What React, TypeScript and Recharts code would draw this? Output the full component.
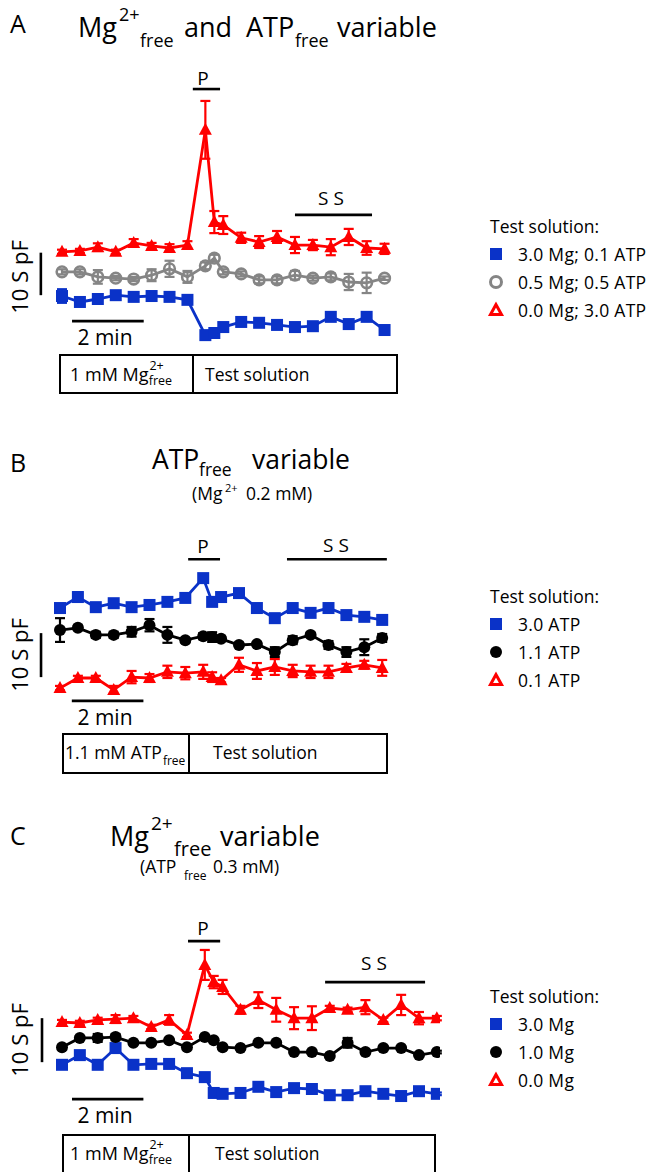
import React from "react";
import { LineChart, Line, XAxis, YAxis, ErrorBar, ReferenceLine } from "recharts";

const BLUE = "#0a32c8";
const RED = "#ff0000";
const GRAY = "#858585";
const BLACK = "#000000";
const FONT = "'Open Sans', 'DejaVu Sans', sans-serif";

// sampling times (min), 30 s steps with extra samples around the peak
const timeA = [0, 0.5, 1, 1.5, 2, 2.5, 3, 3.5, 4, 4.25, 4.5, 5, 5.5, 6, 6.5, 7, 7.5, 8, 8.5, 9];
const timeB = [0, 0.5, 1, 1.5, 2, 2.5, 3, 3.5, 4, 4.25, 4.5, 5, 5.5, 6, 6.5, 7, 7.5, 8, 8.5, 9];
const timeC = [0, 0.5, 1, 1.5, 2, 2.5, 3, 3.5, 4, 4.25, 4.5, 5, 5.5, 6, 6.5, 7, 7.5, 8, 8.5, 9, 9.5, 10, 10.5];

// Panel A: Mg2+ and ATP free variable (pF, arbitrary offsets)
const aBlue = [12.7, 11.3, 12.0, 12.9, 12.5, 12.7, 12.5, 11.8, 3.5, 4.0, 5.4, 6.6, 6.4, 5.9, 5.4, 5.6, 7.8, 6.1, 7.8, 4.7];
const aBlueErr = [1.6, 0.3, 0.3, 0.3, 0.3, 0.3, 0.3, 0.3, 0.3, 0.3, 0.3, 0.3, 0.3, 0.3, 0.3, 0.3, 0.3, 0.3, 0.8, 0.3];
const aGray = [18.4, 18.4, 17.2, 16.9, 16.7, 17.6, 19.1, 17.2, 19.8, 21.6, 18.4, 17.9, 16.5, 16.5, 17.6, 16.9, 17.2, 16.0, 15.8, 16.9];
const aGrayErr = [0.6, 0.6, 1.6, 0.5, 0.5, 1.4, 1.9, 1.4, 0.8, 0.8, 0.6, 0.6, 0.8, 0.8, 1.0, 0.6, 0.8, 1.9, 2.4, 0.4];
const aRed = [23.1, 23.3, 24.2, 23.1, 25.2, 24.5, 24.0, 24.7, 51.8, 30.1, 29.4, 26.4, 25.4, 26.6, 24.7, 24.7, 24.2, 26.6, 24.0, 23.8];
const aRedErr = [0.5, 0.5, 0.9, 0.5, 0.9, 0.7, 0.9, 0.9, 6.8, 2.6, 2.1, 1.2, 1.4, 1.4, 1.9, 1.2, 1.9, 1.9, 1.6, 1.2];

// Panel B: ATP free variable
const bBlue = [20.9, 23.4, 21.1, 22.0, 21.1, 21.6, 22.3, 23.2, 27.7, 22.3, 23.4, 24.3, 20.9, 18.6, 20.9, 19.8, 20.9, 19.3, 18.9, 18.2];
const bBlueErr = [0.3, 1.1, 0.3, 0.3, 0.3, 1.0, 0.3, 0.3, 0.5, 0.3, 0.3, 0.3, 0.3, 0.3, 0.3, 0.3, 0.3, 0.3, 0.3, 0.3];
const bBlack = [15.9, 16.4, 14.8, 14.8, 15.5, 17.0, 14.8, 13.6, 14.5, 14.3, 13.9, 12.5, 12.7, 10.9, 13.6, 14.8, 12.5, 10.9, 12.0, 14.1];
const bBlackErr = [2.7, 0.5, 0.7, 0.7, 1.1, 1.4, 1.8, 0.5, 0.7, 1.1, 0.5, 0.5, 0.5, 1.1, 0.9, 0.5, 0.9, 1.1, 1.8, 0.9];
const bRed = [2.7, 5.0, 5.0, 2.3, 5.2, 5.0, 6.4, 6.1, 6.4, 5.2, 4.5, 8.0, 6.6, 7.5, 6.6, 6.4, 6.4, 7.3, 8.0, 7.3];
const bRedErr = [0.5, 0.5, 0.5, 0.9, 1.4, 0.9, 1.4, 1.4, 1.6, 1.1, 0.5, 1.6, 1.8, 1.8, 1.4, 1.4, 1.4, 0.9, 0.9, 1.8];

// Panel C: Mg2+ free variable
const cBlue = [8.0, 10.2, 8.0, 11.8, 8.0, 8.2, 8.2, 6.1, 5.2, 1.6, 1.4, 1.6, 3.0, 1.8, 2.7, 2.5, 1.1, 1.1, 2.0, 1.4, 0.9, 2.0, 1.4];
const cBlueErr = [0.3, 0.3, 0.3, 0.3, 0.3, 0.3, 0.3, 0.3, 0.3, 0.3, 0.3, 0.3, 0.3, 0.3, 0.3, 0.3, 0.3, 0.3, 0.3, 0.3, 0.3, 0.3, 0.3];
const cBlack = [12.0, 14.1, 14.1, 14.3, 13.0, 13.0, 13.6, 12.0, 14.3, 13.6, 12.0, 11.8, 13.0, 13.0, 10.9, 10.9, 10.0, 13.0, 10.9, 11.8, 11.8, 10.2, 10.9];
const cBlackErr = [0.5, 0.3, 0.9, 0.7, 0.3, 0.3, 0.3, 0.3, 0.3, 0.3, 0.3, 0.3, 0.3, 0.3, 0.3, 0.3, 0.3, 1.1, 0.5, 0.5, 0.3, 0.3, 0.3];
const cRed = [17.7, 17.5, 18.2, 18.4, 18.6, 16.6, 18.2, 14.8, 30.7, 26.8, 25.7, 20.5, 22.7, 20.5, 18.6, 18.6, 20.9, 20.5, 21.1, 18.2, 21.6, 18.6, 18.6];
const cRedErr = [0.5, 0.5, 0.5, 0.9, 0.5, 0.5, 1.1, 0.5, 3.4, 1.4, 1.6, 0.9, 1.8, 2.7, 2.5, 2.7, 0.5, 0.5, 1.6, 0.5, 2.3, 1.4, 0.5];

type Shape = "square" | "disc" | "ring" | "triangle";

interface Series {
  key: string;
  color: string;
  shape: Shape;
  values: number[];
  errors: number[];
}

interface Bar {
  x1: number;
  x2: number;
  y1: number;
  y2: number;
}

function makeDot(shape: Shape, color: string) {
  return (props: any) => {
    const { cx, cy, index } = props;
    if (cx == null || cy == null) return <g key={`e-${index}`} />;
    if (shape === "square") {
      return <rect key={`d-${index}`} x={cx - 6} y={cy - 6} width={12} height={12} fill={color} />;
    }
    if (shape === "disc") {
      return <circle key={`d-${index}`} cx={cx} cy={cy} r={6} fill={color} />;
    }
    if (shape === "ring") {
      return <circle key={`d-${index}`} cx={cx} cy={cy} r={5.3} fill="none" stroke={color} strokeWidth={2.6} />;
    }
    return (
      <polygon
        key={`d-${index}`}
        points={`${cx},${cy - 7} ${cx - 6.5},${cy + 5} ${cx + 6.5},${cy + 5}`}
        fill={color}
      />
    );
  };
}

interface PanelProps {
  top: number;
  height: number;
  time: number[];
  series: Series[];
  x0: number;    // page x of t = 0
  ppm: number;   // px per minute
  yZero: number; // page y of 0 pF
  ppf: number;   // px per pF
  bars: Bar[];
}

function TracePanel({ top, height, time, series, x0, ppm, yZero, ppf, bars }: PanelProps) {
  const W = 460;
  const m = { top: 20, right: 20, bottom: 20, left: 20 };
  const xDomain = [(m.left - x0) / ppm, (W - m.right - x0) / ppm];
  const yDomain = [(yZero - (top + height - m.bottom)) / ppf, (yZero - (top + m.top)) / ppf];

  const rows = time.map((t, i) => {
    const row: Record<string, number> = { t };
    series.forEach(s => {
      row[s.key] = s.values[i];
      row[s.key + "Err"] = s.errors[i];
    });
    return row;
  });

  return (
    <div style={{ position: "absolute", left: 0, top, width: W, height }}>
      <LineChart width={W} height={height} data={rows} margin={m}>
        <XAxis type="number" dataKey="t" domain={xDomain} hide allowDataOverflow />
        <YAxis type="number" domain={yDomain} hide allowDataOverflow />
        {bars.map((b, i) => (
          <ReferenceLine
            key={`bar-${i}`}
            segment={[{ x: b.x1, y: b.y1 }, { x: b.x2, y: b.y2 }]}
            stroke={BLACK}
            strokeWidth={2.6}
            ifOverflow="visible"
          />
        ))}
        {series.map(s => (
          <Line
            key={s.key}
            type="linear"
            dataKey={s.key}
            stroke={s.color}
            strokeWidth={2.8}
            dot={makeDot(s.shape, s.color)}
            activeDot={false}
            isAnimationActive={false}
          >
            <ErrorBar dataKey={s.key + "Err"} width={5} strokeWidth={2.2} stroke={s.color} direction="y" />
          </Line>
        ))}
      </LineChart>
    </div>
  );
}

function LegendMark({ shape, color, x, y }: { shape: Shape; color: string; x: number; y: number }) {
  if (shape === "square") return <rect x={x - 6} y={y - 6} width={12} height={12} fill={color} />;
  if (shape === "disc") return <circle cx={x} cy={y} r={6} fill={color} />;
  if (shape === "ring") return <circle cx={x} cy={y} r={5.5} fill="none" stroke={color} strokeWidth={3} />;
  return (
    <polygon
      points={`${x},${y - 5.5} ${x - 5.5},${y + 4.5} ${x + 5.5},${y + 4.5}`}
      fill="none"
      stroke={color}
      strokeWidth={3}
    />
  );
}

function Legend({ top, items }: { top: number; items: { shape: Shape; color: string; label: string }[] }) {
  return (
    <g fontSize={17.5}>
      <text x={490} y={top}>Test solution:</text>
      {items.map((it, i) => (
        <g key={it.label}>
          <LegendMark shape={it.shape} color={it.color} x={496} y={top + 21 + i * 28} />
          <text x={518} y={top + 28 + i * 28} letterSpacing={0.3}>{it.label}</text>
        </g>
      ))}
    </g>
  );
}

function ScaleLabels({ midY, minY }: { midY: number; minY: number }) {
  return (
    <g fontSize={22}>
      <text x={28} y={midY} textAnchor="middle" transform={`rotate(-90 28 ${midY})`}>10 S pF</text>
      <text x={105} y={minY} textAnchor="middle" fontSize={21}>2 min</text>
    </g>
  );
}

function SolutionBox({ x, y, w, h, split, first, textY, testX }: {
  x: number; y: number; w: number; h: number; split: number;
  first: React.ReactNode; textY: number; testX: number;
}) {
  return (
    <g>
      <rect x={x} y={y} width={w} height={h} fill="none" stroke="#000" strokeWidth={2} />
      <line x1={split} y1={y} x2={split} y2={y + h} stroke="#000" strokeWidth={2} />
      {first}
      <text x={testX} y={textY} fontSize={17.5}>Test solution</text>
    </g>
  );
}

export default function App() {
  const seriesA: Series[] = [
    { key: "blue", color: BLUE, shape: "square", values: aBlue, errors: aBlueErr },
    { key: "gray", color: GRAY, shape: "ring", values: aGray, errors: aGrayErr },
    { key: "red", color: RED, shape: "triangle", values: aRed, errors: aRedErr },
  ];
  const seriesB: Series[] = [
    { key: "blue", color: BLUE, shape: "square", values: bBlue, errors: bBlueErr },
    { key: "black", color: BLACK, shape: "disc", values: bBlack, errors: bBlackErr },
    { key: "red", color: RED, shape: "triangle", values: bRed, errors: bRedErr },
  ];
  const seriesC: Series[] = [
    { key: "blue", color: BLUE, shape: "square", values: cBlue, errors: cBlueErr },
    { key: "black", color: BLACK, shape: "disc", values: cBlack, errors: cBlackErr },
    { key: "red", color: RED, shape: "triangle", values: cRed, errors: cRedErr },
  ];

  // scale bars (10 pF, 2 min) and P / SS markers, in data units
  const barsA: Bar[] = [
    { x1: -0.59, x2: -0.59, y1: 12.9, y2: 22.9 },
    { x1: 0.28, x2: 2.28, y1: 6.8, y2: 6.8 },
    { x1: 3.65, x2: 4.41, y1: 61.4, y2: 61.4 },
    { x1: 6.5, x2: 8.65, y1: 31.8, y2: 31.8 },
  ];
  const barsB: Bar[] = [
    { x1: -0.53, x2: -0.53, y1: 5.2, y2: 15.2 },
    { x1: 0.33, x2: 2.33, y1: -0.2, y2: -0.2 },
    { x1: 3.58, x2: 4.47, y1: 32.0, y2: 32.0 },
    { x1: 6.34, x2: 9.13, y1: 32.0, y2: 32.0 },
  ];
  const barsC: Bar[] = [
    { x1: -0.56, x2: -0.56, y1: 8.6, y2: 18.6 },
    { x1: 0.28, x2: 2.28, y1: 0.2, y2: 0.2 },
    { x1: 3.53, x2: 4.43, y1: 36.1, y2: 36.1 },
    { x1: 7.37, x2: 10.17, y1: 26.8, y2: 26.8 },
  ];

  return (
    <div style={{ position: "absolute", left: 0, top: 0, width: 654, height: 1172, background: "#fff", overflow: "hidden", fontFamily: FONT }}>
      <TracePanel top={60} height={320} time={timeA} series={seriesA} x0={62} ppm={35.84} yZero={350} ppf={4.25} bars={barsA} />
      <TracePanel top={530} height={210} time={timeB} series={seriesB} x0={60} ppm={35.8} yZero={700} ppf={4.4} bars={barsB} />
      <TracePanel top={915} height={210} time={timeC} series={seriesC} x0={62} ppm={35.7} yZero={1100} ppf={4.4} bars={barsC} />

      <svg width={654} height={1172} style={{ position: "absolute", left: 0, top: 0, pointerEvents: "none" }} fontFamily={FONT} fill="#000">
        {/* Panel A */}
        <text x={10} y={33} fontSize={25}>A</text>
        <text y={37} fontSize={27}>
          <tspan x={78}>Mg</tspan>
          <tspan x={119} y={21} fontSize={18}>2+</tspan>
          <tspan x={140} y={47} fontSize={18}>free</tspan>
          <tspan x={184} y={37}>and</tspan>
          <tspan x={246} y={37}>ATP</tspan>
          <tspan x={295} y={47} fontSize={18}>free</tspan>
          <tspan x={337} y={37}>variable</tspan>
        </text>
        <text x={203} y={85} fontSize={19} textAnchor="middle">P</text>
        <text x={331} y={205} fontSize={19} textAnchor="middle">S S</text>
        <ScaleLabels midY={277} minY={345} />
        <SolutionBox x={60} y={355} w={337} h={38} split={193} textY={381} testX={205}
          first={
            <text x={70} y={381} fontSize={18}>
              1 mM Mg<tspan dx={1} dy={-11} fontSize={12.5}>2+</tspan><tspan dx={-15} dy={15} fontSize={12.5}>free</tspan>
            </text>
          } />
        <Legend top={233} items={[
          { shape: "square", color: BLUE, label: "3.0 Mg; 0.1 ATP" },
          { shape: "ring", color: GRAY, label: "0.5 Mg; 0.5 ATP" },
          { shape: "triangle", color: RED, label: "0.0 Mg; 3.0 ATP" },
        ]} />

        {/* Panel B */}
        <text x={10} y={472} fontSize={25}>B</text>
        <text y={469} fontSize={26.5}>
          <tspan x={152}>ATP</tspan>
          <tspan x={199} y={476} fontSize={17.5}>free</tspan>
          <tspan x={252} y={469}>variable</tspan>
        </text>
        <text y={500} fontSize={17.5}>
          <tspan x={192}>(Mg</tspan>
          <tspan x={225} y={492} fontSize={11}>2+</tspan>
          <tspan x={246} y={500}>0.2 mM)</tspan>
        </text>
        <text x={203} y={553} fontSize={19} textAnchor="middle">P</text>
        <text x={336} y={552} fontSize={19} textAnchor="middle">S S</text>
        <ScaleLabels midY={655} minY={725} />
        <SolutionBox x={63} y={734} w={324} h={39} split={189} textY={759} testX={213}
          first={
            <text x={65} y={759} fontSize={17.5}>
              1.1 mM ATP<tspan dx={1} dy={6} fontSize={12}>free</tspan>
            </text>
          } />
        <Legend top={603} items={[
          { shape: "square", color: BLUE, label: "3.0 ATP" },
          { shape: "disc", color: BLACK, label: "1.1 ATP" },
          { shape: "triangle", color: RED, label: "0.1 ATP" },
        ]} />

        {/* Panel C */}
        <text x={10} y={845} fontSize={25}>C</text>
        <text y={846} fontSize={27}>
          <tspan x={110}>Mg</tspan>
          <tspan x={151} y={830} fontSize={19}>2+</tspan>
          <tspan x={174} y={856} fontSize={20}>free</tspan>
          <tspan x={220} y={846}>variable</tspan>
        </text>
        <text y={873} fontSize={17.5}>
          <tspan x={140}>(ATP</tspan>
          <tspan x={184} y={880} fontSize={12}>free</tspan>
          <tspan x={213} y={873}>0.3 mM)</tspan>
        </text>
        <text x={203} y={935} fontSize={19} textAnchor="middle">P</text>
        <text x={374} y={970} fontSize={19} textAnchor="middle">S S</text>
        <ScaleLabels midY={1040} minY={1123} />
        <SolutionBox x={63} y={1135} w={372} h={40} split={189} textY={1160} testX={215}
          first={
            <text x={70} y={1160} fontSize={18}>
              1 mM Mg<tspan dx={1} dy={-11} fontSize={12.5}>2+</tspan><tspan dx={-15} dy={15} fontSize={12.5}>free</tspan>
            </text>
          } />
        <Legend top={1003} items={[
          { shape: "square", color: BLUE, label: "3.0 Mg" },
          { shape: "disc", color: BLACK, label: "1.0 Mg" },
          { shape: "triangle", color: RED, label: "0.0 Mg" },
        ]} />
      </svg>
    </div>
  );
}
